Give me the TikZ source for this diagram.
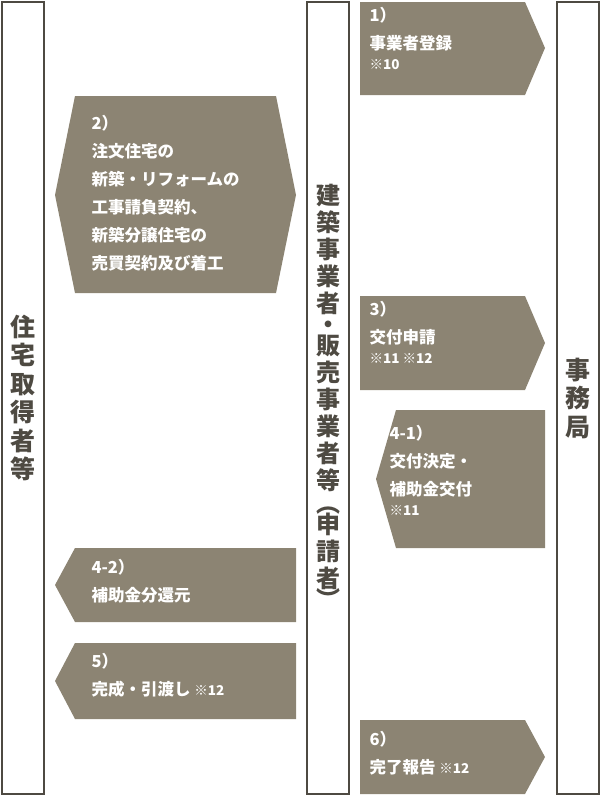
\documentclass[tikz,border=0pt]{standalone}
\usepackage{fontspec}
\setmainfont{Noto Sans CJK JP}
\newcommand\notesize{\fontsize{13.5}{15}\selectfont}
\begin{document}
\begin{tikzpicture}[x=1pt,y=-1pt,
  party/.style={draw=partyline, line width=1.6pt, fill=white},
  partytext/.style={text=partyline, font=\bfseries\fontsize{25}{28.5}\selectfont, align=center},
  flow/.style={fill=flowfill},
  flowtext/.style={text=white, font=\bfseries\fontsize{16.5}{28}\selectfont, align=left, anchor=north west}]
\definecolor{flowfill}{HTML}{8C8473}
\definecolor{partyline}{HTML}{4E4A42}
\useasboundingbox (0,0) rectangle (600,796);
% parties
\draw[party] (2,2) rectangle (44,794);
\draw[party] (307,2) rectangle (349,794);
\draw[party] (557,2) rectangle (599,794);
\node[partytext] (buyer) at (23,398) {住\\宅\\取\\得\\者\\等};
\node[partytext, font=\bfseries\fontsize{24}{27}\selectfont] (applicant) at (328,396)
  {建\\築\\事\\業\\者\\[-6pt]・\\[-6pt]販\\売\\事\\業\\者\\等\\[-4pt]︵\\[-6pt]申\\請\\者\\[-6pt]︶};
\node[partytext] (office) at (578,398) {事\\務\\局};
% flows
\fill[flow] (360,2) -- (525,2) -- (545,48) -- (525,95) -- (360,95) -- cycle;
\node[flowtext] (s1) at (366,4) {1）\\事業者登録\\[-8pt]{\notesize ※10}};
\fill[flow] (55,195) -- (75,96) -- (276,96) -- (296,195) -- (276,293) -- (75,293) -- cycle;
\node[flowtext] (s2) at (88,112) {2）\\注文住宅の\\新築・リフォームの\\工事請負契約、\\新築分譲住宅の\\売買契約及び着工};
\fill[flow] (360,296) -- (525,296) -- (545,343) -- (525,390) -- (360,390) -- cycle;
\node[flowtext] (s3) at (366,298) {3）\\交付申請\\[-8pt]{\notesize ※11 ※12}};
\fill[flow] (376,479) -- (396,410) -- (545,410) -- (545,548) -- (396,548) -- cycle;
\node[flowtext] (s41) at (386,422) {4-1）\\交付決定・\\補助金交付\\[-8pt]{\notesize ※11}};
\fill[flow] (55,585) -- (75,548) -- (296,548) -- (296,622) -- (75,622) -- cycle;
\node[flowtext] (s42) at (88,556) {4-2）\\補助金分還元};
\fill[flow] (55,681) -- (75,643) -- (296,643) -- (296,719) -- (75,719) -- cycle;
\node[flowtext] (s5) at (88,650) {5）\\完成・引渡し {\notesize ※12}};
\fill[flow] (360,720) -- (525,720) -- (545,757) -- (525,794) -- (360,794) -- cycle;
\node[flowtext] (s6) at (366,728) {6）\\完了報告 {\notesize ※12}};
\end{tikzpicture}
\end{document}
